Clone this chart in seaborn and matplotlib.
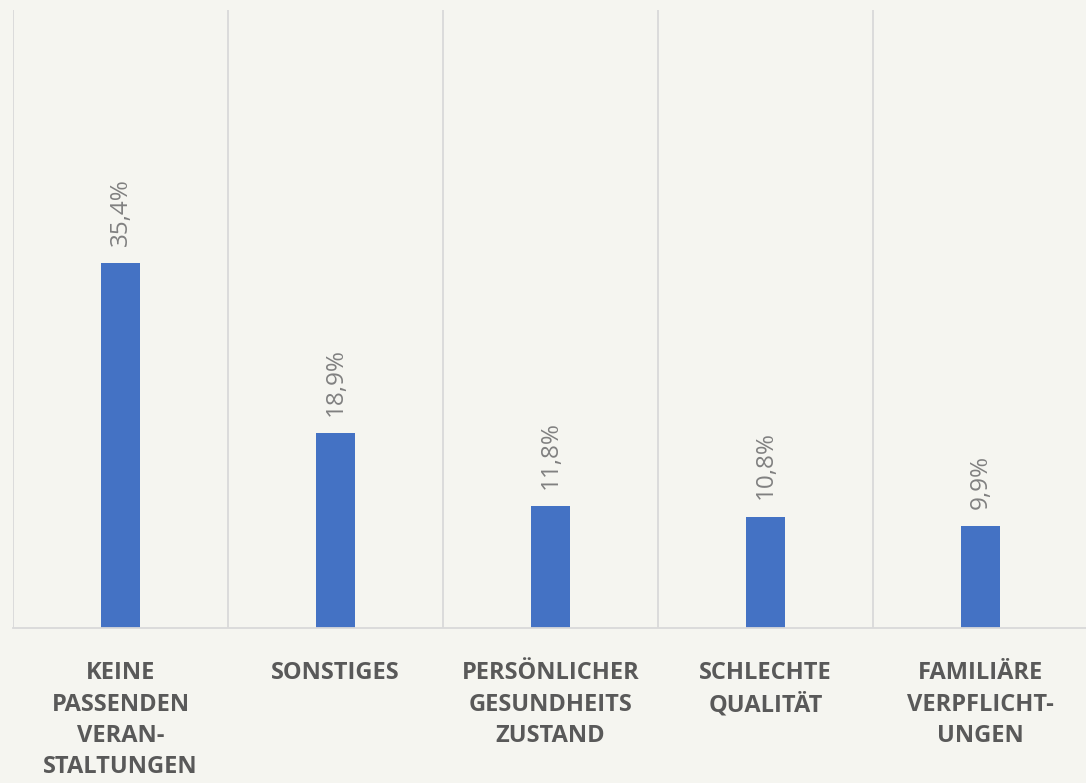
import matplotlib
matplotlib.use("Agg")
import matplotlib.pyplot as plt
import seaborn as sns
import pandas as pd

# Data
categories = [
    "KEINE\nPASSENDEN\nVERAN-\nSTALTUNGEN",
    "SONSTIGES",
    "PERSÖNLICHER\nGESUNDHEITS\nZUSTAND",
    "SCHLECHTE\nQUALITÄT",
    "FAMILIÄRE\nVERPFLICHT-\nUNGEN",
]
values = [35.4, 18.9, 11.8, 10.8, 9.9]

BG = "#F5F5F0"
BAR = "#4472C4"
GRID = "#D9D9D9"

sns.set_theme(style="white")
plt.rcParams["font.family"] = ["Open Sans", "DejaVu Sans"]

df = pd.DataFrame({"cat": categories, "val": values})

fig = plt.figure(figsize=(10.86, 7.83), dpi=100, facecolor=BG)
ax = fig.add_axes([13 / 1086, (783 - 628) / 783, 1075 / 1086, 618 / 783])
ax.set_facecolor(BG)

sns.barplot(data=df, x="cat", y="val", color=BAR, width=0.186,
            saturation=1, linewidth=0, ax=ax)

ax.set_ylim(0, 60)
ax.set_xlim(-0.5, len(categories) - 0.5)

# vertical separators between categories
for b in range(len(categories) + 1):
    ax.axvline(b - 0.5, color=GRID, lw=1.3, zorder=0)

for s in ["top", "right", "left"]:
    ax.spines[s].set_visible(False)
ax.spines["bottom"].set_color(GRID)
ax.spines["bottom"].set_linewidth(1.3)

ax.set_yticks([])
ax.set_xlabel("")
ax.set_ylabel("")
ax.tick_params(axis="x", length=0, pad=24)
ax.set_xticks(range(len(categories)))
ax.set_xticklabels(categories, fontsize=17, fontweight="bold",
                   color="#595959", linespacing=1.4)

for i, v in enumerate(values):
    ax.text(i, v + 1.7, f"{v:.1f}%".replace(".", ","), rotation=90,
            ha="center", va="bottom", fontsize=17.5, color="#808080")

fig.savefig("out.png", dpi=100, facecolor=BG)
